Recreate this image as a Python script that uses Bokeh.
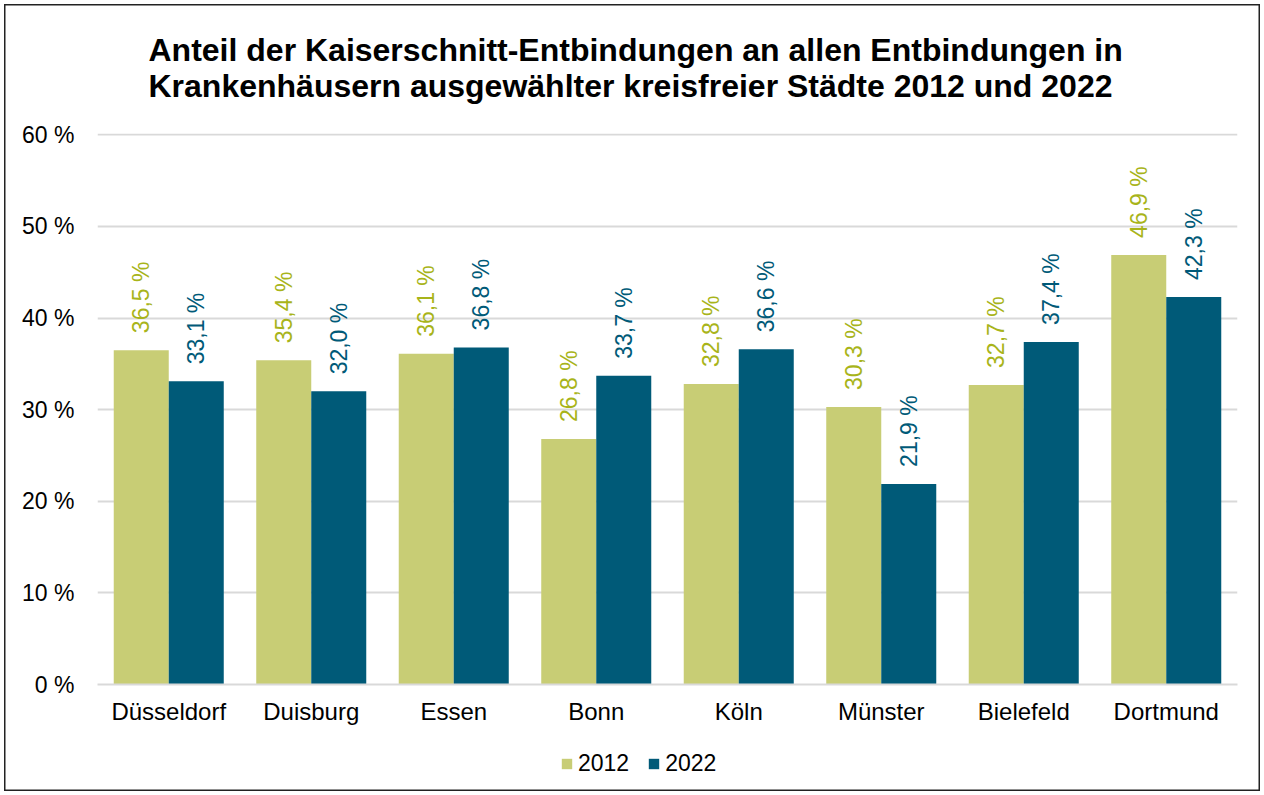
from math import pi
from bokeh.plotting import figure
from bokeh.layouts import column
from bokeh.core.properties import value
from bokeh.models import (ColumnDataSource, FactorRange, Range1d, FixedTicker,
                          PrintfTickFormatter, Legend, LegendItem, Title)
from bokeh.transform import dodge
from bokeh.embed import file_html
from bokeh.resources import INLINE

cities = ["Düsseldorf", "Duisburg", "Essen", "Bonn", "Köln", "Münster", "Bielefeld", "Dortmund"]
years = ["2012", "2022"]
values_2012 = [36.5, 35.4, 36.1, 26.8, 32.8, 30.3, 32.7, 46.9]
values_2022 = [33.1, 32.0, 36.8, 33.7, 36.6, 21.9, 37.4, 42.3]
y_ticks = [0, 10, 20, 30, 40, 50, 60]

def fmt(v):
    return f"{v:.1f}".replace(".", ",") + " %"

src = ColumnDataSource(dict(
    city=cities, v12=values_2012, v22=values_2022,
    l12=[fmt(v) for v in values_2012], l22=[fmt(v) for v in values_2022],
))

FONT = "Liberation Sans"
C12, C22 = "#C8CD75", "#005A78"
L12 = "#A8B41A"

p = figure(width=1264, height=735,
           x_range=FactorRange(*cities), y_range=Range1d(0, 60.15),
           output_backend="svg", toolbar_location=None,
           min_border_left=97, min_border_right=27, min_border_top=132, min_border_bottom=51)
p.outline_line_color = None
p.background_fill_color = "white"
p.border_fill_alpha = 0

title = Title(text="Anteil der Kaiserschnitt-Entbindungen an allen Entbindungen in\nKrankenhäusern ausgewählter kreisfreier Städte 2012 und 2022",
              align="left", offset=51, text_font=FONT, text_font_size="32px", text_font_style="bold",
              text_color="black", text_line_height=1.0, standoff=59)
p.add_layout(title, "above")

w = 0.386
r12 = p.vbar(x=dodge("city", -w / 2, range=p.x_range), top="v12", width=w, source=src,
             fill_color=C12, line_color=None)
r22 = p.vbar(x=dodge("city", w / 2, range=p.x_range), top="v22", width=w, source=src,
             fill_color=C22, line_color=None)

p.text(x=dodge("city", -w / 2, range=p.x_range), y="v12", text="l12", source=src,
       angle=pi / 2, text_align="left", text_baseline="middle", y_offset=-17,
       text_font=value(FONT), text_font_size="23px", text_color=L12)
p.text(x=dodge("city", w / 2, range=p.x_range), y="v22", text="l22", source=src,
       angle=pi / 2, text_align="left", text_baseline="middle", y_offset=-17,
       text_font=value(FONT), text_font_size="23px", text_color=C22)

p.xgrid.grid_line_color = None
p.ygrid.grid_line_color = "#D9D9D9"
p.ygrid.grid_line_width = 2
p.yaxis.ticker = FixedTicker(ticks=y_ticks)
p.yaxis.formatter = PrintfTickFormatter(format="%d %%")
p.yaxis.axis_line_color = None
p.yaxis.major_tick_line_color = None
p.yaxis.minor_tick_line_color = None
p.yaxis.major_label_standoff = 17
p.yaxis.major_label_text_font = FONT
p.yaxis.major_label_text_font_size = "23px"
p.yaxis.major_label_text_color = "black"

p.xaxis.axis_line_color = "#D9D9D9"
p.xaxis.axis_line_width = 2
p.xaxis.major_tick_line_color = None
p.xaxis.minor_tick_line_color = None
p.xaxis.major_label_standoff = 7
p.xaxis.major_label_text_font = FONT
p.xaxis.major_label_text_font_size = "24px"
p.xaxis.major_label_text_color = "black"
p.x_range.range_padding = 0
p.x_range.group_padding = 0

# legend strip below the chart (its zero-width bars fall outside its y-range; only the legend shows)
q = figure(width=1264, height=60, x_range=FactorRange(*cities), y_range=Range1d(-2, -1),
           output_backend="svg", toolbar_location=None,
           x_axis_location=None, y_axis_location=None,
           min_border_left=0, min_border_right=0, min_border_top=0, min_border_bottom=0)
q.outline_line_color = None
q.grid.grid_line_color = None
q.background_fill_alpha = 0
q.border_fill_alpha = 0
g12 = q.vbar(x="city", top="v12", width=0, source=src, fill_color=C12, line_color=None)
g22 = q.vbar(x="city", top="v22", width=0, source=src, fill_color=C22, line_color=None)

legend = Legend(items=[LegendItem(label=years[0], renderers=[g12]),
                       LegendItem(label=years[1], renderers=[g22])],
                orientation="horizontal", location=(463, 18),
                glyph_width=13, glyph_height=13, label_standoff=5, spacing=18,
                label_text_font=FONT, label_text_font_size="23px", label_text_color="black",
                border_line_color=None, background_fill_alpha=0, padding=0, margin=0)
q.add_layout(legend, "center")

layout = column(p, q, spacing=0)
layout.styles = {"background-color": "white",
                 "box-shadow": "inset 0 0 0 4px #ffffff, inset 0 0 0 5.5px #222222"}

open("out.html", "w").write(file_html(layout, INLINE))
